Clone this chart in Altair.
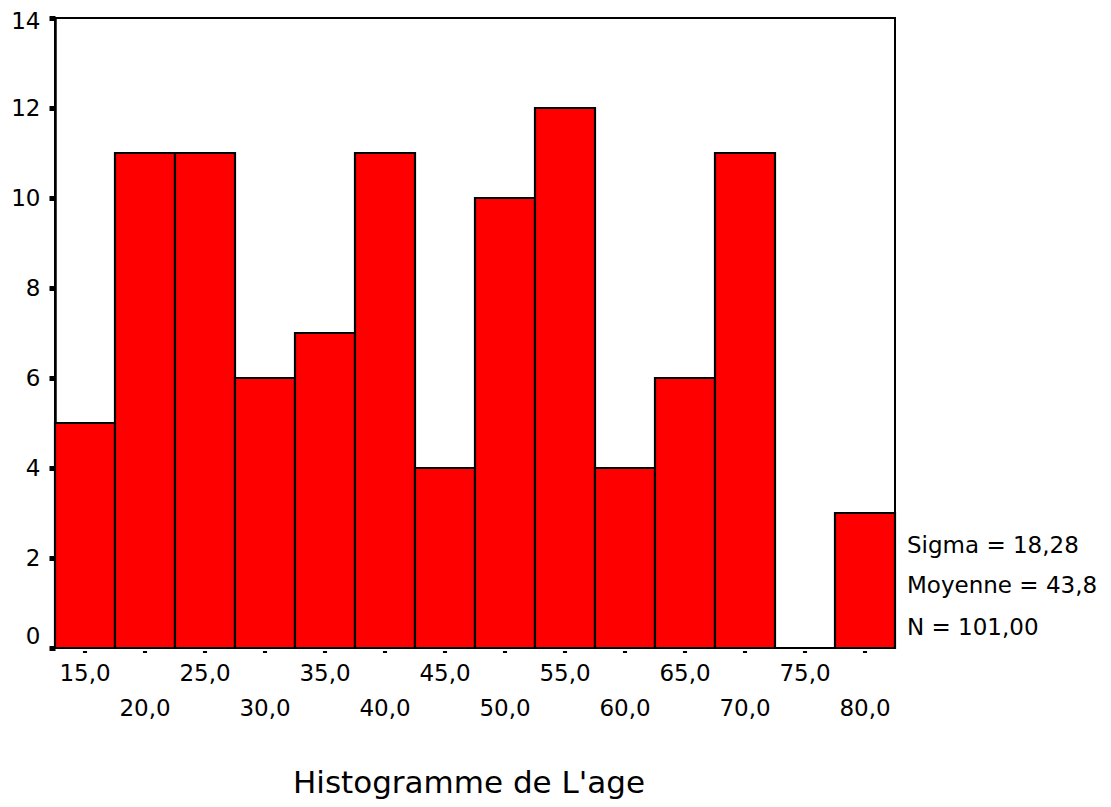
import altair as alt
import pandas as pd

centers = [15, 20, 25, 30, 35, 40, 45, 50, 55, 60, 65, 70, 75, 80]
counts = [5, 11, 11, 6, 7, 11, 4, 10, 12, 4, 6, 11, 0, 3]
x_labels = ["15,0", "20,0", "25,0", "30,0", "35,0", "40,0", "45,0",
            "50,0", "55,0", "60,0", "65,0", "70,0", "75,0", "80,0"]
y_ticks = [0, 2, 4, 6, 8, 10, 12, 14]
stats_lines = ["Sigma = 18,28", "Moyenne = 43,8", "N = 101,00"]
title_text = "Histogramme de L'age"

FONT = "DejaVu Sans"
W, H = 840, 630

df = pd.DataFrame({"center": centers, "count": counts, "label": x_labels})
one = pd.DataFrame({"k": [0]})

xscale = alt.Scale(domain=[12.5, 82.5], nice=False, zero=False)
yscale = alt.Scale(domain=[0, 14], nice=False)

base = alt.Chart(df).transform_calculate(
    x0="datum.center - 2.5", x1="datum.center + 2.5",
    d0="datum.center - 0.17", d1="datum.center + 0.17",
    ypix=f"datum.center % 10 == 5 ? {H + 26} : {H + 61}",
)

bars = base.mark_bar(color="#FF0000", stroke="black", strokeWidth=2.2).encode(
    x=alt.X("x0:Q", scale=xscale, axis=None),
    x2="x1:Q",
    y=alt.Y("count:Q", scale=yscale, axis=alt.Axis(
        values=y_ticks, grid=False, title=None, domainColor="black",
        domainWidth=2.5, tickColor="black", tickSize=6, tickWidth=5,
        labelFont=FONT, labelFontSize=23, labelColor="black", labelPadding=9,
        labelOffset={"condition": [
            {"test": "datum.value == 0", "value": -12},
            {"test": "datum.value == 14", "value": 3}], "value": 0},
    )),
    y2=alt.Y2(datum=0),
)

dashes = base.mark_rule(color="black", strokeWidth=2).encode(
    x=alt.X("d0:Q", scale=xscale, axis=None),
    x2="d1:Q",
    y=alt.value(H + 4),
)

xlab = base.mark_text(font=FONT, fontSize=23, color="black", baseline="middle").encode(
    x=alt.X("center:Q", scale=xscale, axis=None),
    y=alt.Y("ypix:Q", scale=None),
    text="label:N",
)

stat_y = [528, 568, 610]
stats = [
    alt.Chart(one).mark_text(text=t, font=FONT, fontSize=23, color="black",
                             align="left", baseline="middle").encode(
        x=alt.value(W + 12), y=alt.value(yy))
    for t, yy in zip(stats_lines, stat_y)
]

title = alt.Chart(one).mark_text(text=title_text, font=FONT, fontSize=31, color="black",
                                 align="center", baseline="alphabetic").encode(
    x=alt.value(414), y=alt.value(775))

chart = alt.layer(bars, dashes, xlab, *stats, title).properties(
    width=W, height=H,
    autosize=alt.AutoSizeParams(type="none"),
    padding={"left": 47, "top": 10, "right": 1111 - 16 - 47 - W, "bottom": 807 - 16 - 10 - H},
    background="white",
).configure_view(stroke="black", strokeWidth=2)

chart.save("out.html", embed_options={"renderer": "svg", "actions": False})
